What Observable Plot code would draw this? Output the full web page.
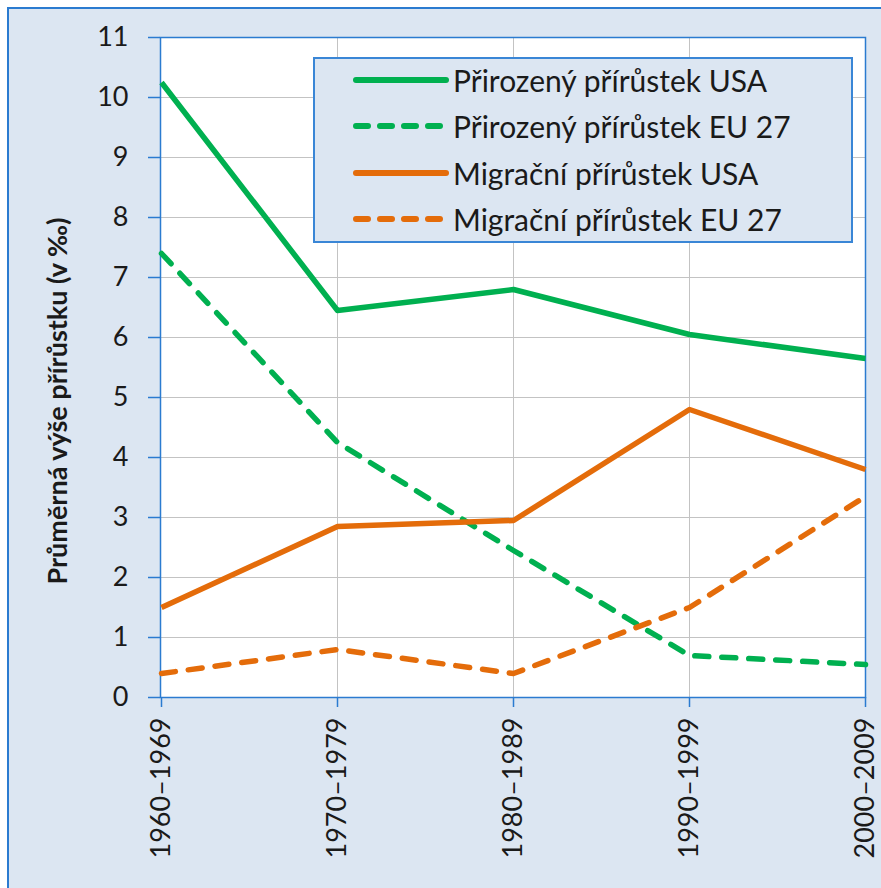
<!DOCTYPE html>
<html><head><meta charset="utf-8">
<script src="https://cdn.jsdelivr.net/npm/d3@7"></script>
<script src="https://cdn.jsdelivr.net/npm/@observablehq/plot@0.6"></script>
<style>
html,body{margin:0;padding:0;background:#fff;}
#wrap{position:relative;width:881px;height:888px;overflow:hidden;font-family:Lato,sans-serif;}
#bg{position:absolute;left:7px;top:7px;width:900px;height:900px;background:#dce6f2;border-left:2px solid #2b7bd0;border-top:2px solid #2b7bd0;}
#chart{position:absolute;left:0;top:0;}
#legend{position:absolute;left:313px;top:57px;width:540px;height:186px;box-sizing:border-box;border:2px solid #3a86d6;background:#dce6f2;}
.row{position:absolute;left:0;height:40px;display:flex;align-items:center;font-size:30px;color:#1a1a1a;white-space:nowrap;}
.row svg{margin-left:38px;margin-right:4px;}
</style></head><body>
<div id="wrap"><div id="bg"></div><div id="chart"></div><div id="legend"></div></div>
<script>
const periods = ["1960–1969","1970–1979","1980–1989","1990–1999","2000–2009"];
const natUSA = [10.25, 6.45, 6.8, 6.05, 5.65];
const natEU  = [7.4, 4.25, 2.45, 0.7, 0.55];
const migUSA = [1.5, 2.85, 2.95, 4.8, 3.8];
const migEU  = [0.4, 0.8, 0.4, 1.5, 3.35];
const seriesNames = ["Přirozený přírůstek USA","Přirozený přírůstek EU 27","Migrační přírůstek USA","Migrační přírůstek EU 27"];
const yTicks = [0,1,2,3,4,5,6,7,8,9,10,11];
const yTitle = "Průměrná výše přírůstku (v ‰)";

const GREEN = "#00b050", ORANGE = "#e46c0a", BLUE = "#2b7bd0";
const styles = [
  {stroke: GREEN, dash: null},
  {stroke: GREEN, dash: "14,13"},
  {stroke: ORANGE, dash: null},
  {stroke: ORANGE, dash: "14,13"}
];
const allValues = [natUSA, natEU, migUSA, migEU];
const rows = [];
allValues.forEach((vals, i) => periods.forEach((p, j) => rows.push({period: p, value: vals[j], series: seriesNames[i]})));

const lineMarks = seriesNames.map((s, i) => Plot.line(rows.filter(d => d.series === s), {
  x: "period", y: "value", stroke: styles[i].stroke, strokeWidth: 5.5,
  strokeDasharray: styles[i].dash, strokeLinecap: styles[i].dash ? "round" : "butt", strokeLinejoin: "round"
}));

const chart = Plot.plot({
  width: 881, height: 888,
  marginLeft: 160, marginRight: 16, marginTop: 37, marginBottom: 191,
  style: {background: "transparent", fontFamily: "Lato, sans-serif", fontSize: "27px", color: "#1a1a1a"},
  x: {type: "point", domain: periods, padding: 0, axis: null},
  y: {domain: [0, 11], axis: null},
  marks: [
    Plot.frame({fill: "white", stroke: "none"}),
    Plot.gridY(yTicks.filter(t => t > 0 && t < 11), {stroke: "#c3c3c3", strokeOpacity: 1}),
    Plot.gridX(periods.slice(1, -1), {stroke: "#c3c3c3", strokeOpacity: 1}),
    Plot.frame({stroke: BLUE, strokeWidth: 1.5}),
    Plot.axisY(yTicks, {tickSize: 12, tickPadding: 20, tickFormat: d => String(d), stroke: BLUE, strokeWidth: 1.5, fill: "#1a1a1a", label: null}),
    Plot.axisX(periods, {tickSize: 10, tickPadding: 10, tickRotate: -90, stroke: BLUE, strokeWidth: 1.5, fill: "#1a1a1a", label: null}),
    ...lineMarks
  ]
});
document.getElementById("chart").appendChild(chart);

d3.select(chart).append("text")
  .attr("transform", "translate(56,401) rotate(-90)")
  .attr("text-anchor", "middle").attr("dominant-baseline", "central")
  .attr("font-weight", "bold").attr("font-size", 27).attr("fill", "#1a1a1a")
  .text(yTitle);

const legend = d3.select("#legend");
seriesNames.forEach((s, i) => {
  const row = legend.append("div").attr("class", "row").style("top", (1 + i * 46.3) + "px");
  const svg = row.append("svg").attr("width", 96).attr("height", 12);
  svg.append("line").attr("x1", 3).attr("x2", 93).attr("y1", 6).attr("y2", 6)
    .attr("stroke", styles[i].stroke).attr("stroke-width", 6)
    .attr("stroke-linecap", "round")
    .attr("stroke-dasharray", styles[i].dash ? "12,12" : null);
  row.append("span").text(s);
});
</script>
</body></html>
